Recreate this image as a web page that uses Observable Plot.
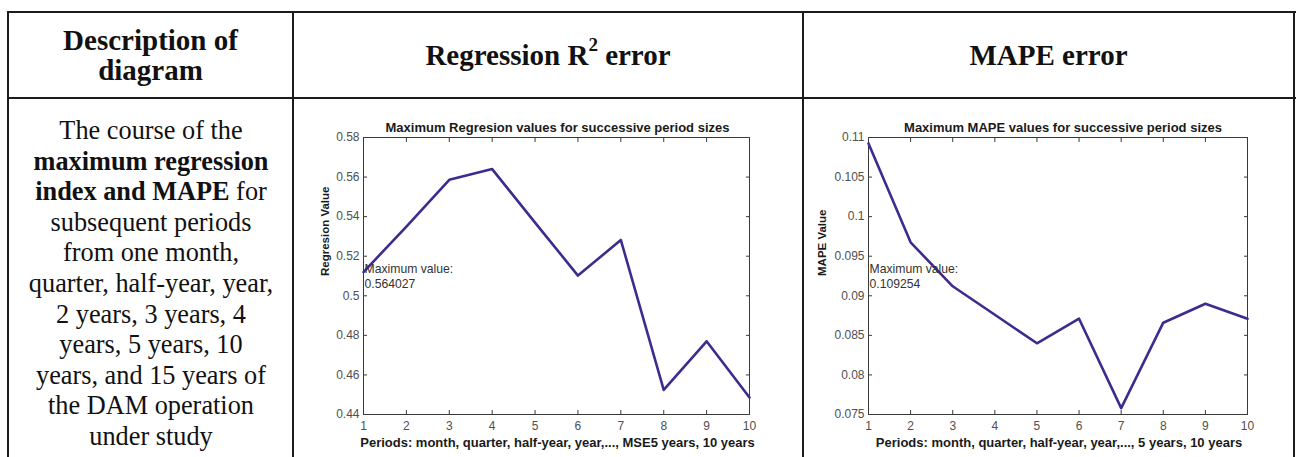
<!DOCTYPE html>
<html>
<head>
<meta charset="utf-8">
<script src="https://cdn.jsdelivr.net/npm/d3@7"></script>
<script src="https://cdn.jsdelivr.net/npm/@observablehq/plot@0.6"></script>
<style>
  body { margin: 0; background: #fff; }
  #page {
    position: relative; width: 1297px; height: 457px; overflow: hidden;
    font-family: "Liberation Serif", "Times New Roman", serif; color: #111;
  }
  .rule { position: absolute; background: #1b1b1b; }
  .head {
    position: absolute; text-align: center; font-weight: bold;
    font-size: 29px; line-height: 30px;
  }
  .desc {
    position: absolute; left: 10px; width: 282px; top: 116px;
    text-align: center; font-size: 26.3px; line-height: 30.6px; white-space: nowrap;
  }
  .chart { position: absolute; top: 110px; }
  .chart svg { display: block; }
</style>
</head>
<body>
<div id="page">
  <div class="rule" style="left:7px;top:11px;width:1289px;height:2px"></div>
  <div class="rule" style="left:7px;top:97px;width:1289px;height:2px"></div>
  <div class="rule" style="left:7px;top:11px;width:2px;height:460px"></div>
  <div class="rule" style="left:292px;top:11px;width:2px;height:460px"></div>
  <div class="rule" style="left:802px;top:11px;width:2px;height:460px"></div>
  <div class="rule" style="left:1293px;top:11px;width:2px;height:460px"></div>

  <div class="head" style="left:9px;width:283px;top:25px">Description of<br>diagram</div>
  <div class="head" style="left:294px;width:508px;top:40px">Regression R<sup style="font-size:19px;line-height:0;position:relative;top:-3px">2</sup> error</div>
  <div class="head" style="left:804px;width:489px;top:40px">MAPE error</div>

  <div class="desc">
    The course of the<br>
    <b>maximum regression</b><br>
    <b>index and MAPE</b> for<br>
    subsequent periods<br>
    from one month,<br>
    quarter, half-year, year,<br>
    2 years, 3 years, 4<br>
    years, 5 years, 10<br>
    years, and 15 years of<br>
    the DAM operation<br>
    under study
  </div>

  <div class="chart" id="regChart" style="left:300px"></div>
  <div class="chart" id="mapeChart" style="left:805px"></div>
</div>

<script>
// Period index: month, quarter, half-year, year, ..., 5 years, 10 years
const periods = [1, 2, 3, 4, 5, 6, 7, 8, 9, 10];

// Maximum regression value for each period size
const regression = [0.512, 0.535, 0.5586, 0.564027, 0.537, 0.5102, 0.5282, 0.4524, 0.477, 0.4486];

// Maximum MAPE value for each period size
const mape = [0.109254, 0.09675, 0.0912, 0.0876, 0.0840, 0.0871, 0.0758, 0.0866, 0.0890, 0.0871];

// Axis tick values
const regressionTicks = [0.44, 0.46, 0.48, 0.5, 0.52, 0.54, 0.56, 0.58];
const mapeTicks = [0.075, 0.08, 0.085, 0.09, 0.095, 0.1, 0.105, 0.11];

const lineColor = "#3e2b8e";
const boxColor = "#3a3a3a";
const tickText = "#4f4f4f";
const fmt = d => String(+d.toFixed(4));

function lineChart({values, ticks, title, yLabel, xLabel, width, marginRight, yLabelOffset, titleDx, xLabelDx}) {
  const rows = periods.map((p, i) => ({period: p, value: values[i]}));
  const peak = d3.max(values);
  return Plot.plot({
    width,
    height: 347,
    marginLeft: 63,
    marginRight,
    marginTop: 27,
    marginBottom: 43,
    style: {fontFamily: '"Liberation Sans", Arial, sans-serif', fontSize: "12px", background: "transparent"},
    x: {domain: [1, 10]},
    y: {domain: [ticks[0], ticks[ticks.length - 1]]},
    marks: [
      Plot.frame({stroke: boxColor, strokeWidth: 1}),
      Plot.axisX(periods, {anchor: "bottom", tickSize: -4, tickPadding: 11, tickFormat: fmt, fontSize: 12, stroke: boxColor, fill: tickText, label: null}),
      Plot.axisX(periods, {anchor: "top", tickSize: -4, tickFormat: () => "", stroke: boxColor, label: null}),
      Plot.axisY(ticks, {anchor: "left", tickSize: -4, tickPadding: 8, tickFormat: fmt, fontSize: 12, stroke: boxColor, fill: tickText, label: null}),
      Plot.axisY(ticks, {anchor: "right", tickSize: -4, tickFormat: () => "", stroke: boxColor, label: null}),
      Plot.line(rows, {x: "period", y: "value", stroke: lineColor, strokeWidth: 2.6}),
      Plot.text([`Maximum value:\n${peak}`], {text: d => d, frameAnchor: "left", textAnchor: "start", lineAnchor: "middle", lineHeight: 1.15, fontSize: 12.2, dx: 1, fill: "#333"}),
      Plot.text([title], {text: d => d, frameAnchor: "top", lineAnchor: "middle", dy: -10, dx: titleDx, fontSize: 13, fontWeight: "bold", fill: "#1a1a1a"}),
      Plot.text([xLabel], {text: d => d, frameAnchor: "bottom", lineAnchor: "middle", dy: 28, dx: xLabelDx, fontSize: 13, fontWeight: "bold", fill: "#1a1a1a"}),
      Plot.text([yLabel], {text: d => d, frameAnchor: "left", lineAnchor: "middle", rotate: -90, dx: -yLabelOffset, fontSize: 11.5, fontWeight: "bold", fill: "#1a1a1a"})
    ]
  });
}

document.getElementById("regChart").append(lineChart({
  values: regression,
  ticks: regressionTicks,
  title: "Maximum Regresion values for successive period sizes",
  yLabel: "Regresion Value",
  xLabel: "Periods: month, quarter, half-year, year,..., MSE5 years, 10 years",
  width: 460,
  marginRight: 11,
  yLabelOffset: 38,
  titleDx: 1,
  xLabelDx: 1
}));

document.getElementById("mapeChart").append(lineChart({
  values: mape,
  ticks: mapeTicks,
  title: "Maximum MAPE values for successive period sizes",
  yLabel: "MAPE Value",
  xLabel: "Periods: month, quarter, half-year, year,..., 5 years, 10 years",
  width: 480,
  marginRight: 38,
  yLabelOffset: 46,
  titleDx: 5,
  xLabelDx: 1
}));
</script>
</body>
</html>
